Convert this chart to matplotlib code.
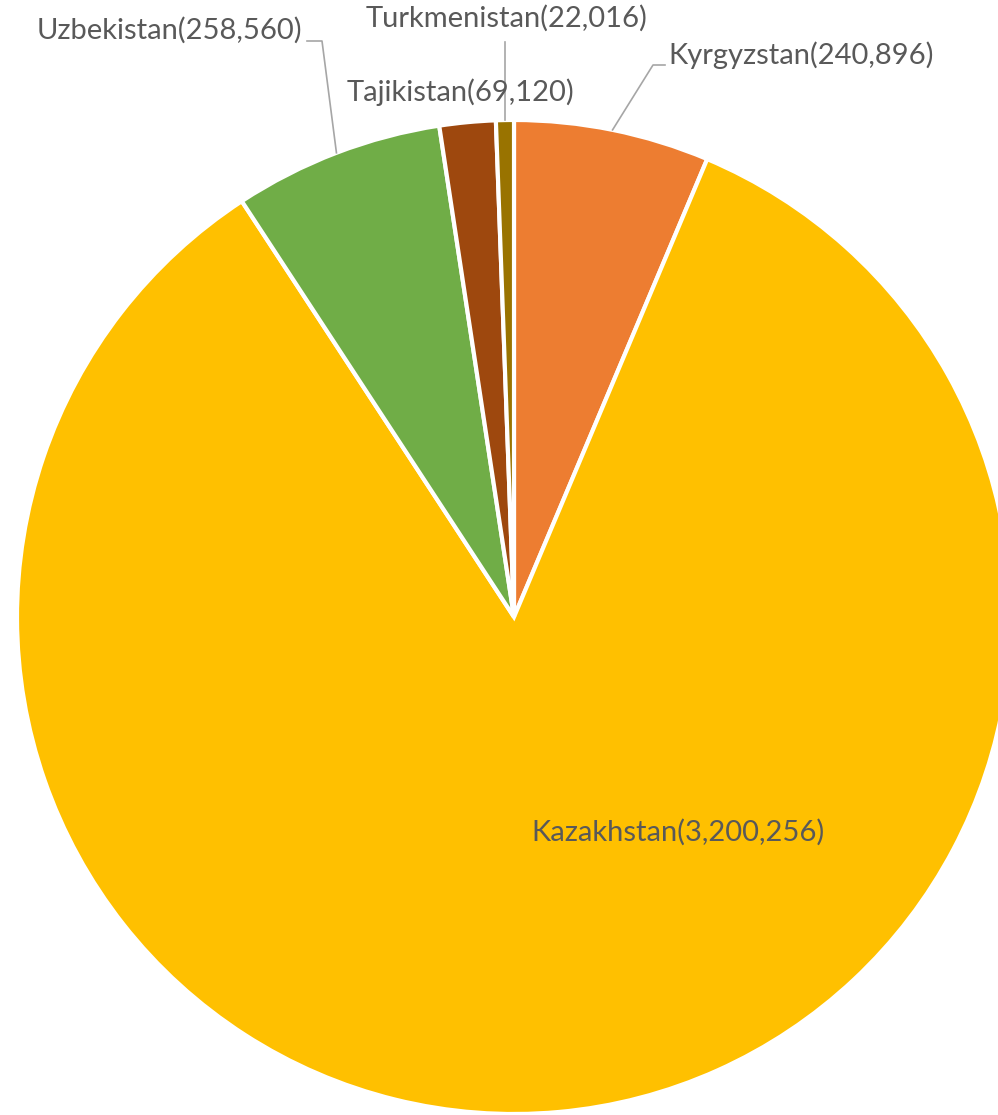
import numpy as np
import matplotlib.pyplot as plt

plt.rcParams['font.family'] = ['Lato', 'DejaVu Sans']

countries = ['Kyrgyzstan', 'Kazakhstan', 'Uzbekistan', 'Tajikistan', 'Turkmenistan']
values = [240896, 3200256, 258560, 69120, 22016]
colors = ['#ED7D31', '#FFC000', '#70AD47', '#9E480E', '#997300']

W, H = 998, 1115
cx, cy, r = 514, H - 617, 497

fig = plt.figure(figsize=(W / 100, H / 100), dpi=100)
ax = fig.add_axes([0, 0, 1, 1])
wedges, _ = ax.pie(values, colors=colors, startangle=90, counterclock=False,
                   center=(cx, cy), radius=r,
                   wedgeprops=dict(edgecolor='white', linewidth=3))
ax.set_xlim(0, W)
ax.set_ylim(0, H)
ax.set_aspect('equal')
ax.axis('off')

labels = ['%s(%s)' % (c, format(v, ',')) for c, v in zip(countries, values)]
txt = dict(color='#595959', fontsize=21)


def edge_point(w):
    a = np.deg2rad((w.theta1 + w.theta2) / 2)
    return cx + r * np.cos(a), cy + r * np.sin(a)


# label text positions (x, y from top) and leader elbows
ax.text(668, H - 55, labels[0], ha='left', va='center', **txt)
ax.text(678, H - 832, labels[1], ha='center', va='center', **txt)
ax.text(302, H - 30, labels[2], ha='right', va='center', **txt)
ax.text(461, H - 92, labels[3], ha='center', va='center', **txt)
ax.text(507, H - 18, labels[4], ha='center', va='center', **txt)

line = dict(color='#A6A6A6', linewidth=1.2)
x0, y0 = edge_point(wedges[0])
ax.plot([x0, 653, 665], [y0, H - 65, H - 65], **line)
x2, y2 = edge_point(wedges[2])
ax.plot([x2, 322, 307], [y2, H - 41, H - 41], **line)
x4, y4 = edge_point(wedges[4])
ax.plot([x4, x4], [y4, H - 42], **line)

fig.savefig('out.png', dpi=100)
